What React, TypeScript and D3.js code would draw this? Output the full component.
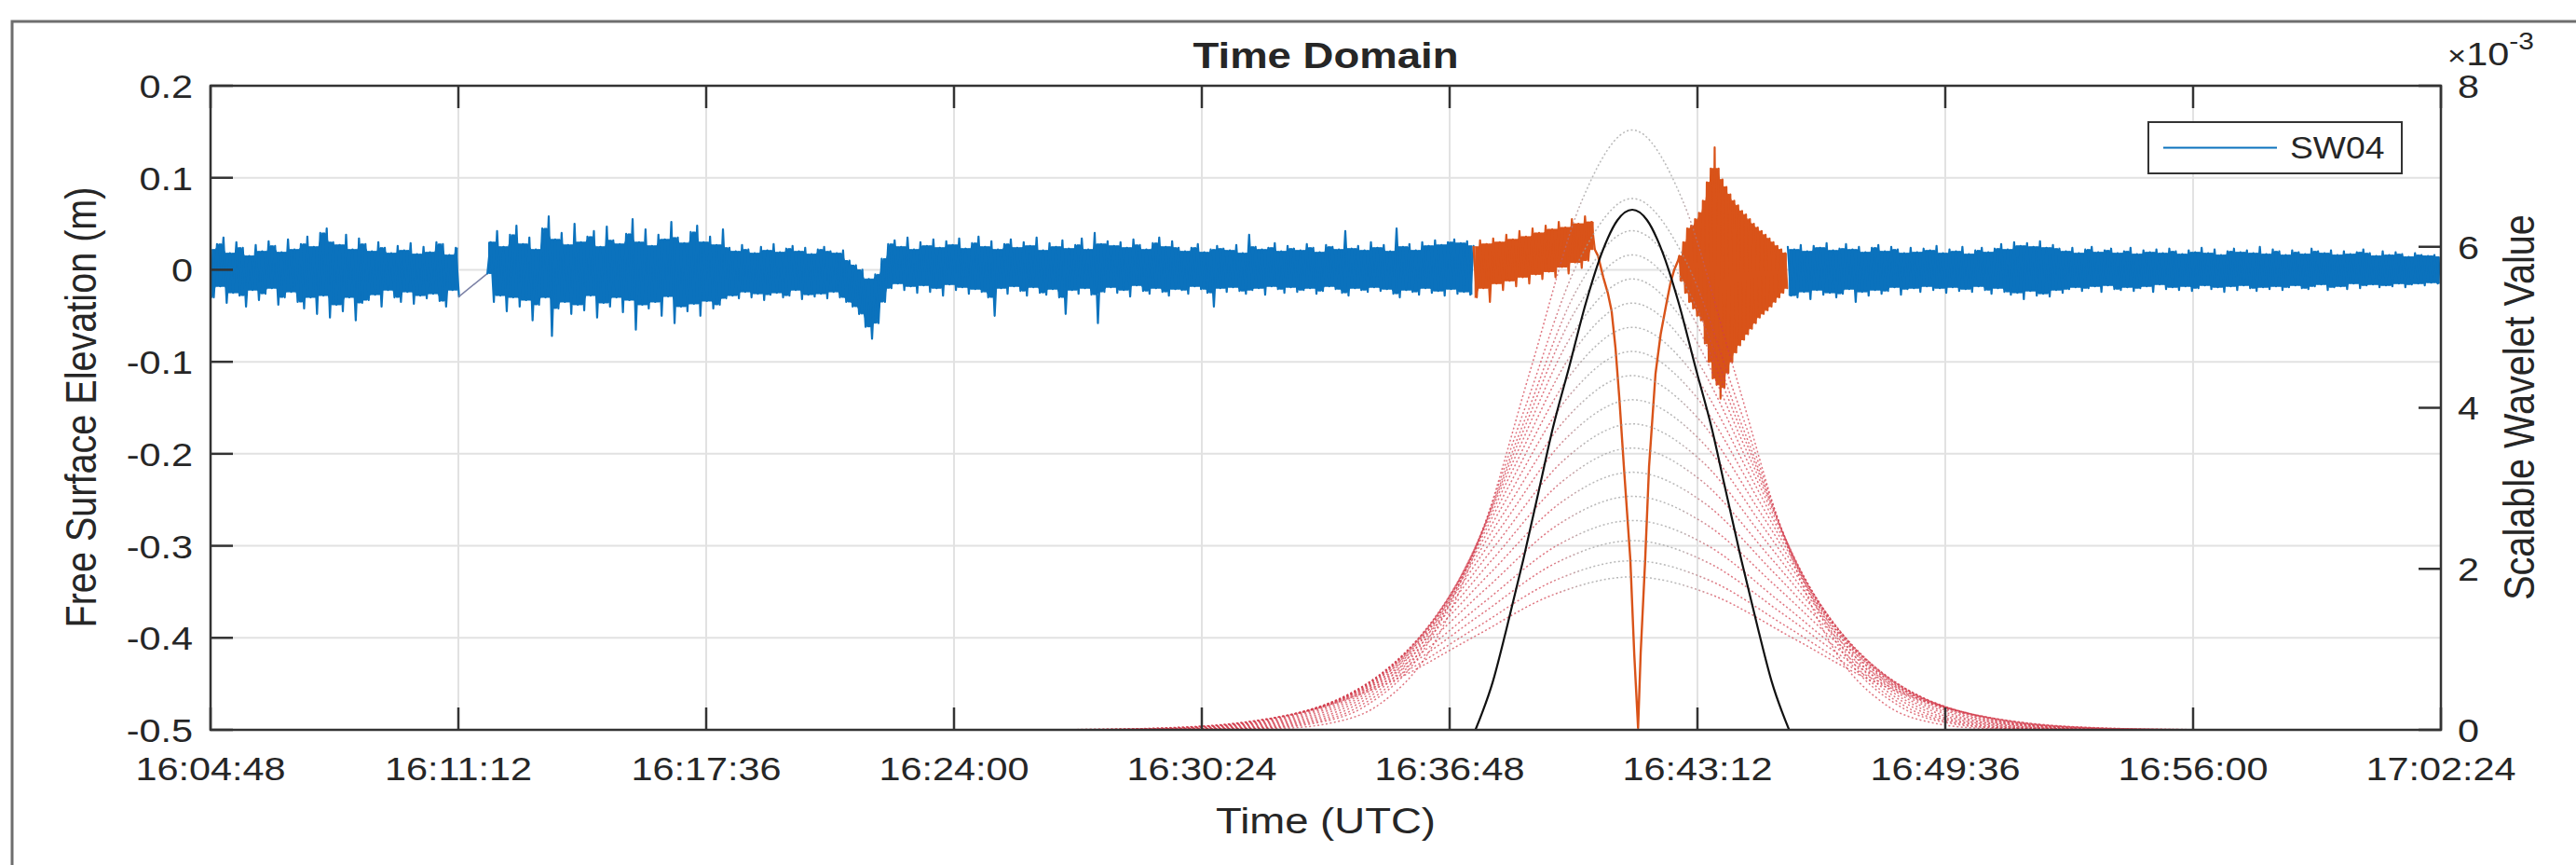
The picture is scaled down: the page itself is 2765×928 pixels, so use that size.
import React from 'react';
import * as d3 from 'd3';

const W = 2765;
const H = 928;
const PLOT = { left: 226, right: 2620, top: 92, bottom: 783 };

// ---- axes (time in seconds after 16:04:48) ----
const xTickSeconds = [0, 384, 768, 1152, 1536, 1920, 2304, 2688, 3072, 3456];
const xTickLabels = ['16:04:48', '16:11:12', '16:17:36', '16:24:00', '16:30:24', '16:36:48', '16:43:12', '16:49:36', '16:56:00', '17:02:24'];
const leftTicks = [0.2, 0.1, 0, -0.1, -0.2, -0.3, -0.4, -0.5];
const leftTickLabels = ['0.2', '0.1', '0', '-0.1', '-0.2', '-0.3', '-0.4', '-0.5'];
const rightTicks = [0, 0.002, 0.004, 0.006, 0.008];
const rightTickLabels = ['0', '2', '4', '6', '8'];

// ---- SW04 free surface elevation, alternating high/low samples in mm ----
const blue1Span = [0, 385];
const blue1Mm = [22,-30,28,-18,35,-36,18,-25,30,-28,24,-40,15,-22,27,-33,20,-26,31,-20,26,-38,19,-30,33,-24,22,-35,28,-42,36,-30,25,-48,40,-28,45,-52,30,-38,27,-45,38,-30,22,-55,34,-36,28,-33,20,-27,30,-40,24,-22,18,-30,26,-35,21,-24,29,-37,17,-28,25,-31,19,-26,30,-34,28,-40,16,-22,24,-29];

const gapTimes = [385, 429];
const gapValues = [-0.029, -0.004];

const blue2aSpan = [429, 799];
const blue2aMm = [-4,30,-35,42,-28,25,-45,38,-30,48,-40,28,-33,35,-55,22,-38,45,-30,58,-72,33,-42,40,-35,27,-48,50,-38,30,-44,36,-28,42,-52,25,-36,47,-40,32,-30,28,-46,39,-33,55,-65,30,-38,44,-42,26,-35,38,-50,33,-29,52,-58,35,-40,29,-45,41,-37,48,-50,30,-34,36,-42,27,-38,44,-31];
const blue2bSpan = [804, 985];
const blue2bMm = [24,-28,20,-31,27,-24,22,-30,18,-26,25,-33,21,-27,28,-25,19,-30,23,-28,26,-22,20,-32,24,-27,17,-29,22,-26,25,-31,20,-24,18,-30,21,-35];
const blue2cSpan = [990, 1045];
const blue2cMm = [10,-40,5,-48,0,-62,-10,-75,-5,-58,12,-35];
const blue2dSpan = [1050, 1500];
const blue2dMm = [28,-20,32,-15,25,-22,35,-18,22,-25,30,-17,26,-24,33,-20,24,-28,31,-16,27,-22,34,-19,23,-26,29,-21,36,-24,25,-30,31,-50,22,-20,28,-26,33,-18,24,-23,30,-28,26,-19,35,-25,21,-27,29,-21,25,-30,32,-48,23,-22,27,-26,34,-20,22,-27,40,-58,28,-24,31,-19,26,-25,30,-22,24,-29,33,-17,27,-23,22,-26,29,-20,35,-24,25,-28,31,-21,24];
const blue2eSpan = [1505, 1957];
const blue2eMm = [-22,20,-26,24,-18,28,-21,19,-25,22,-40,26,-20,23,-24,21,-19,27,-23,18,-26,38,-22,25,-20,22,-27,24,-18,29,-21,20,-25,26,-19,23,-24,21,-22,28,-20,24,-26,19,-23,27,-18,25,-21,22,-25,42,-28,23,-20,26,-22,21,-24,30,-19,24,-23,27,-21,20,-26,45,-30,25,-22,28,-24,21,-27,30,-20,26,-25,32,-23,27,-28,30,-21,33,-26,29,-24,31,-27,26];

const blue3Span = [2444, 3456];
const blue3Mm = [25,-28,22,-30,27,-24,20,-32,26,-22,24,-27,29,-25,21,-30,23,-26,28,-21,22,-35,25,-24,19,-28,24,-22,27,-26,20,-23,25,-19,22,-27,18,-21,24,-20,19,-24,23,-18,21,-22,26,-20,18,-25,22,-19,20,-23,25,-21,17,-24,21,-18,24,-22,19,-26,23,-20,28,-24,22,-27,30,-25,26,-32,29,-23,25,-28,31,-26,24,-29,27,-22,23,-25,20,-21,24,-19,18,-23,22,-20,25,-18,19,-24,21,-17,23,-21,18,-22,20,-19,24,-23,17,-20,21,-18,19,-24,22,-16,18,-21,23,-19,20,-22,17,-18,21,-23,19,-20,24,-17,18,-21,22,-19,16,-24,20,-18,23,-22,19,-17,21,-20,18,-23,25,-19,17,-21,22,-18,20,-22,16,-19,21,-17,19,-20,17,-21,23,-18,20,-16,18,-22,21,-19,16,-18,20,-21,17,-15,19,-20,22,-17,18,-16,15,-19,20,-17,16,-18,19,-15,17,-19,14,-16,18,-15,16,-17,15,-14,16,-15,14];

// ---- detected segment (orange) ----
const orange1Span = [1957, 2145];
const orange1Mm = [25,-30,32,-20,28,-35,34,-15,30,-22,38,-12,33,-18,42,-8,36,-15,45,-5,40,-10,48,-2,44,-8,52,3,46,-4,55,8,50,2,58,10,52,22];
const orangeDipTimes = [2150, 2158, 2165, 2171, 2177, 2183, 2190, 2200, 2206, 2212, 2216, 2223, 2229, 2239, 2247, 2255, 2262, 2268, 2274];
const orangeDipValues = [0.015, -0.008, -0.025, -0.045, -0.085, -0.14, -0.214, -0.315, -0.417, -0.498, -0.417, -0.315, -0.214, -0.113, -0.07, -0.04, -0.015, 0.0, 0.01];
const orangeBurstSpan = [2276, 2443];
const orangeBurstMm = [15,-12,30,-25,45,-35,48,-42,55,-50,62,-55,75,-80,95,-100,110,-118,133,-125,110,-140,98,-128,90,-112,82,-100,75,-90,70,-82,64,-76,60,-70,55,-64,50,-58,46,-52,42,-48,38,-44,34,-40,30,-35,26,-30,22,-25,18,-20];

// ---- scalable wavelet family (right axis) ----
const waveletCenterSec = 2203;
const waveletPeaks = [7.45, 6.6, 6.2, 5.9, 5.6, 5.3, 5.0, 4.7, 4.4, 4.1, 3.8, 3.5, 3.2, 2.9, 2.6, 2.35, 2.1, 1.9]; // x1e-3
const waveletWidthsSec = [156, 166, 171, 176, 181, 186, 191, 196, 201, 206, 211, 216, 221, 226, 231, 236, 241, 246];
// normalised bell shape (offset in widths, relative height)
const waveletProfileOffsets = [-4, -3.5, -3, -2.5, -2, -1.5, -1, -0.5, 0, 0.5, 1, 1.5, 2, 2.5, 3, 3.5, 4];
const waveletProfileShape = [0.0003, 0.0022, 0.0111, 0.0439, 0.1353, 0.3247, 0.6065, 0.8825, 1, 0.8825, 0.6065, 0.3247, 0.1353, 0.0439, 0.0111, 0.0022, 0.0003];

const bestFitTimes = [1960, 1987, 2008, 2034, 2059, 2080, 2105, 2131, 2157, 2180, 2203, 2226, 2249, 2275, 2301, 2326, 2347, 2372, 2398, 2419, 2446];
const bestFitValues = [0, 0.6, 1.25, 2.11, 3.0, 3.75, 4.5, 5.3, 5.95, 6.33, 6.46, 6.33, 5.95, 5.3, 4.5, 3.75, 3.0, 2.11, 1.25, 0.6, 0]; // x1e-3

type Pt = { t: number; v: number };
type Band = { t: number; lo: number; hi: number };
const seg = (span: number[], mm: number[]): Pt[] => {
  const step = (span[1] - span[0]) / (mm.length - 1);
  return mm.map((v, i) => ({ t: span[0] + i * step, v: v / 1000 }));
};
// solid core of a dense trace: the band every nearby oscillation crosses
const core = (pts: Pt[]): Band[] => {
  const pairHi = pts.slice(0, -1).map((p, i) => Math.max(p.v, pts[i + 1].v));
  const pairLo = pts.slice(0, -1).map((p, i) => Math.min(p.v, pts[i + 1].v));
  return pairHi.map((_, i) => {
    const a = Math.max(0, i - 1);
    const b = Math.min(pairHi.length, i + 2);
    return {
      t: (pts[i].t + pts[i + 1].t) / 2,
      hi: d3.min(pairHi.slice(a, b)) as number,
      lo: d3.max(pairLo.slice(a, b)) as number,
    };
  });
};

const FONT = 'Liberation Sans, Arial, Helvetica, sans-serif';
const SX = 1.15;
const TXT = '#262626';

function Label(props: { x: number; y: number; size: number; anchor?: string; weight?: string; rotate?: number; dy?: string; children: React.ReactNode }) {
  const { x, y, size, anchor = 'middle', weight = 'normal', rotate = 0, dy, children } = props;
  return (
    <text
      transform={`translate(${x},${y}) scale(${SX},1)${rotate ? ` rotate(${rotate})` : ''}`}
      textAnchor={anchor as any}
      fontSize={size}
      fontWeight={weight}
      fontFamily={FONT}
      fill={TXT}
      dy={dy}
    >
      {children}
    </text>
  );
}

export default function App() {
  const x = d3.scaleLinear().domain([0, 3456]).range([PLOT.left, PLOT.right]);
  const yL = d3.scaleLinear().domain([-0.5, 0.2]).range([PLOT.bottom, PLOT.top]);
  const yR = d3.scaleLinear().domain([0, 0.008]).range([PLOT.bottom, PLOT.top]);

  const line = d3.line<Pt>().x((d) => x(d.t)).y((d) => yL(d.v));
  const area = d3.area<Band>().x((d) => x(d.t)).y0((d) => yL(d.lo)).y1((d) => yL(d.hi));
  const lineR = d3.line<Pt>().x((d) => x(d.t)).y((d) => yR(d.v)).curve(d3.curveMonotoneX);

  const blueA = seg(blue1Span, blue1Mm);
  const blueB = [
    ...seg(blue2aSpan, blue2aMm),
    ...seg(blue2bSpan, blue2bMm),
    ...seg(blue2cSpan, blue2cMm),
    ...seg(blue2dSpan, blue2dMm),
    ...seg(blue2eSpan, blue2eMm),
  ];
  const blueC = seg(blue3Span, blue3Mm);
  const gap = gapTimes.map((t, i) => ({ t, v: gapValues[i] }));
  const orangeNoise = seg(orange1Span, orange1Mm);
  const orangeDip = orangeDipTimes.map((t, i) => ({ t, v: orangeDipValues[i] }));
  const orangeBurst = seg(orangeBurstSpan, orangeBurstMm);
  const wavelets = waveletPeaks.map((p, k) =>
    waveletProfileOffsets.map((m, i) => ({ t: waveletCenterSec + m * waveletWidthsSec[k], v: p * waveletProfileShape[i] * 1e-3 }))
  );
  const bestFit = bestFitTimes.map((t, i) => ({ t, v: bestFitValues[i] * 1e-3 }));

  const TL = 24;
  const AX = '#333333';
  const BLUE = '#0b72bd';
  const ORANGE = '#D95319';
  const NW = 2.2;

  const noise = (pts: Pt[], color: string, key: string) => (
    <g key={key}>
      <path d={area(core(pts)) || ''} fill={color} stroke={color} strokeWidth={1} />
      <path d={line(pts) || ''} fill="none" stroke={color} strokeWidth={NW} />
    </g>
  );

  // gradient across time: red on the wavelet flanks, grey over the central domes
  const gx0 = x(1400);
  const gx1 = x(3000);
  const off = (s: number) => (x(s) - gx0) / (gx1 - gx0);

  return (
    <svg width={W} height={H} style={{ position: 'absolute', left: 0, top: 0, background: '#fff' }}>
      <rect x={0} y={0} width={W} height={H} fill="#ffffff" />
      {/* figure frame */}
      <path d={`M13,${H + 10} V23 H${W + 10}`} fill="none" stroke="#6e6e6e" strokeWidth={3} />
      <defs>
        <clipPath id="plotClip">
          <rect x={PLOT.left} y={PLOT.top} width={PLOT.right - PLOT.left} height={PLOT.bottom - PLOT.top} />
        </clipPath>
        <linearGradient id="waveGrad" gradientUnits="userSpaceOnUse" x1={gx0} y1={0} x2={gx1} y2={0}>
          <stop offset={0} stopColor="#d23a4a" />
          <stop offset={off(2075)} stopColor="#d23a4a" />
          <stop offset={off(2130)} stopColor="#9a9a9a" />
          <stop offset={off(2275)} stopColor="#9a9a9a" />
          <stop offset={off(2335)} stopColor="#d23a4a" />
          <stop offset={1} stopColor="#d23a4a" />
        </linearGradient>
      </defs>
      {/* grid */}
      <g stroke="#e2e2e2" strokeWidth={2}>
        {xTickSeconds.slice(1, -1).map((s) => (
          <line key={'gx' + s} x1={x(s)} x2={x(s)} y1={PLOT.top} y2={PLOT.bottom} />
        ))}
        {leftTicks.slice(1, -1).map((v) => (
          <line key={'gy' + v} x1={PLOT.left} x2={PLOT.right} y1={yL(v)} y2={yL(v)} />
        ))}
      </g>
      <g clipPath="url(#plotClip)" strokeLinejoin="round" strokeLinecap="round">
        {noise(blueA, BLUE, 'b1')}
        <path d={line(gap) || ''} fill="none" stroke="#7c82a6" strokeWidth={1.5} />
        {noise(blueB, BLUE, 'b2')}
        {noise(blueC, BLUE, 'b3')}
        {noise(orangeNoise, ORANGE, 'o1')}
        <path d={line([orangeNoise[orangeNoise.length - 1], ...orangeDip, orangeBurst[0]]) || ''} fill="none" stroke={ORANGE} strokeWidth={2.4} />
        {noise(orangeBurst, ORANGE, 'o2')}
        {wavelets.map((pts, k) => (
          <path key={'w' + k} d={lineR(pts) || ''} fill="none" stroke="url(#waveGrad)" strokeOpacity={0.7} strokeWidth={1.5} strokeDasharray="2 2.5" strokeLinecap="butt" />
        ))}
        <path d={lineR(bestFit) || ''} fill="none" stroke="#111111" strokeWidth={2.2} />
      </g>
      {/* axes box */}
      <rect x={PLOT.left} y={PLOT.top} width={PLOT.right - PLOT.left} height={PLOT.bottom - PLOT.top} fill="none" stroke={AX} strokeWidth={2.5} />
      {/* ticks */}
      <g stroke={AX} strokeWidth={2.5}>
        {xTickSeconds.map((s) => (
          <g key={'tx' + s}>
            <line x1={x(s)} x2={x(s)} y1={PLOT.bottom} y2={PLOT.bottom - TL} />
            <line x1={x(s)} x2={x(s)} y1={PLOT.top} y2={PLOT.top + TL} />
          </g>
        ))}
        {leftTicks.map((v) => (
          <line key={'ty' + v} x1={PLOT.left} x2={PLOT.left + TL} y1={yL(v)} y2={yL(v)} />
        ))}
        {rightTicks.map((v) => (
          <line key={'tr' + v} x1={PLOT.right} x2={PLOT.right - TL} y1={yR(v)} y2={yR(v)} />
        ))}
      </g>
      {/* tick labels */}
      {xTickSeconds.map((s, i) => (
        <Label key={'lx' + s} x={x(s)} y={837} size={36}>{xTickLabels[i]}</Label>
      ))}
      {leftTicks.map((v, i) => (
        <Label key={'ly' + v} x={207} y={yL(v)} size={36} anchor="end" dy="0.36em">{leftTickLabels[i]}</Label>
      ))}
      {rightTicks.map((v, i) => (
        <Label key={'lr' + v} x={2638} y={yR(v)} size={36} anchor="start" dy="0.36em">{rightTickLabels[i]}</Label>
      ))}
      <text transform={`translate(2627,70) scale(${SX},1)`} fontSize={36} fontFamily={FONT} fill={TXT}>
        <tspan fontSize={30}>×</tspan>
        <tspan>10</tspan>
        <tspan fontSize={26} dy={-17}>-3</tspan>
      </text>
      {/* titles */}
      <Label x={1423} y={73} size={39.6} weight="bold">Time Domain</Label>
      <Label x={1423} y={894} size={39.6}>Time (UTC)</Label>
      <Label x={103} y={437} size={39.6} rotate={-90}>Free Surface Elevation (m)</Label>
      <Label x={2720} y={437} size={39.6} rotate={-90}>Scalable Wavelet Value</Label>
      {/* legend */}
      <rect x={2306} y={131} width={272} height={55} fill="#ffffff" stroke={AX} strokeWidth={2} />
      <line x1={2322} x2={2444} y1={158.5} y2={158.5} stroke={BLUE} strokeWidth={2} />
      <Label x={2458} y={158.5} size={32.4} anchor="start" dy="0.36em">SW04</Label>
    </svg>
  );
}
